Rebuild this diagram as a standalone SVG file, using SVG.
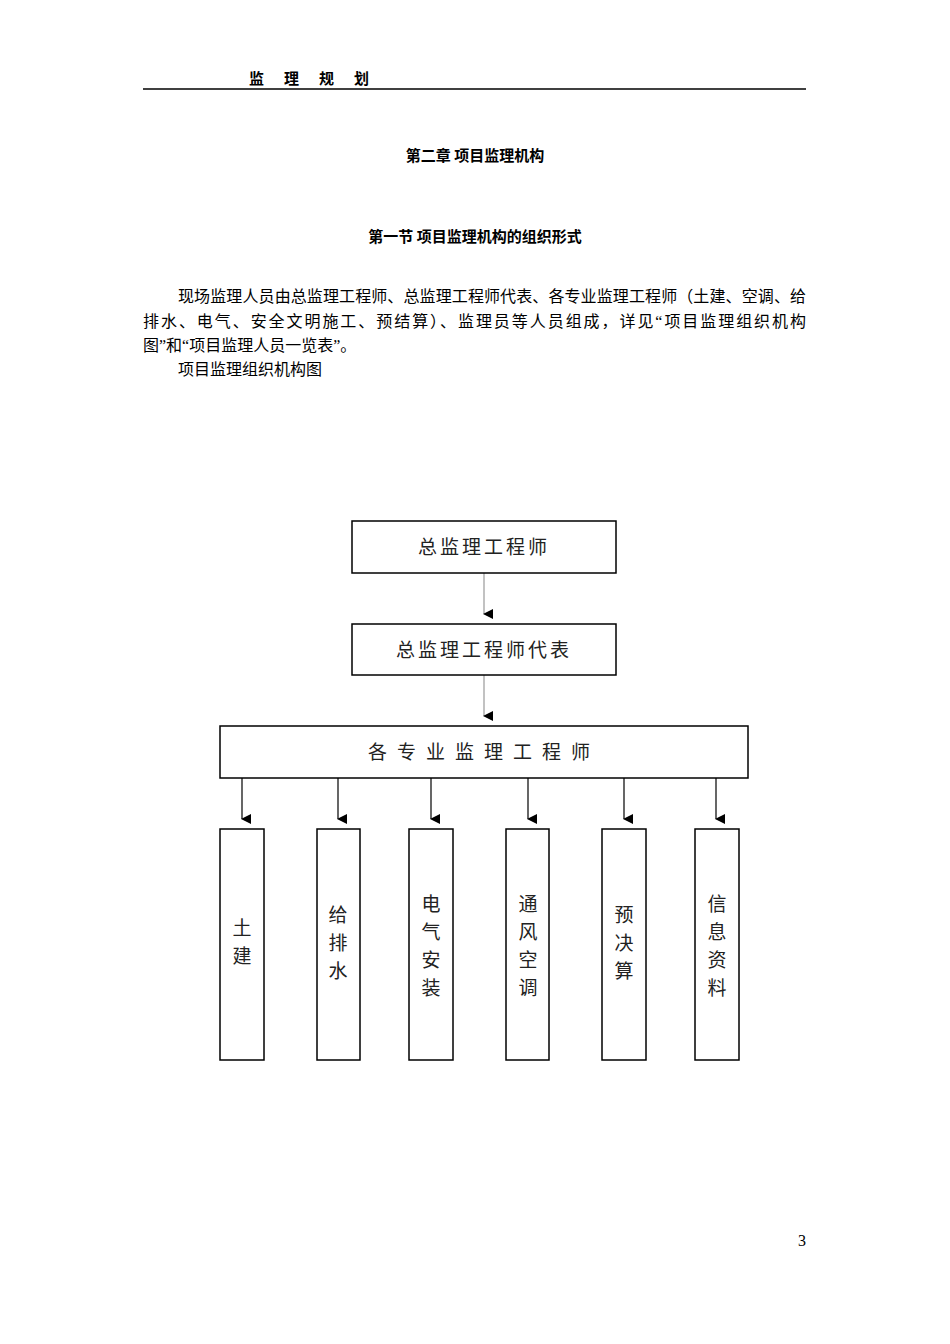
<svg xmlns="http://www.w3.org/2000/svg" width="950" height="1344" viewBox="0 0 950 1344">
<style>
.t{font-family:"Liberation Serif","Noto Sans CJK SC",serif;font-size:16px;fill:#000}
.b{font-family:"Noto Sans CJK SC",sans-serif;font-weight:bold;font-size:15px;fill:#000}
.n{font-family:"Noto Sans CJK SC",sans-serif;font-size:19px;fill:#222}
.box{fill:#fff;stroke:#000;stroke-width:1.5}
.c{stroke:#000;stroke-width:1.2;fill:none}
.g{stroke:#999;stroke-width:1.2;fill:none}
</style>
<defs><marker id="a" markerWidth="10" markerHeight="10" refX="5" refY="9" orient="auto" markerUnits="userSpaceOnUse"><path d="M0,0 L10,0 L5,10 z" fill="#000"/></marker></defs>
<rect width="950" height="1344" fill="#fff"/>
<text class="b" x="249" y="84" font-size="12" textLength="120">监 理 规 划</text>
<line x1="143" y1="89" x2="806" y2="89" stroke="#000" stroke-width="1.5"/>
<text class="b" x="475" y="161" text-anchor="middle">第二章  项目监理机构</text>
<text class="b" x="475" y="242" text-anchor="middle">第一节 项目监理机构的组织形式</text>
<text class="t" x="178" y="302" textLength="628">现场监理人员由总监理工程师、总监理工程师代表、各专业监理工程师（土建、空调、给</text>
<text class="t" x="143" y="327" textLength="663">排水、电气、安全文明施工、预结算）、监理员等人员组成，详见“项目监理组织机构</text>
<text class="t" x="143" y="351">图”和“项目监理人员一览表”。</text>
<text class="t" x="178" y="375">项目监理组织机构图</text>
<g id="connectors">
<line class="g" x1="484" y1="573" x2="484" y2="614" marker-end="url(#a)"/>
<line class="g" x1="484" y1="675" x2="484" y2="716" marker-end="url(#a)"/>
<line class="c" x1="242" y1="778" x2="242" y2="819" marker-end="url(#a)"/>
<line class="c" x1="338" y1="778" x2="338" y2="819" marker-end="url(#a)"/>
<line class="c" x1="431" y1="778" x2="431" y2="819" marker-end="url(#a)"/>
<line class="c" x1="528" y1="778" x2="528" y2="819" marker-end="url(#a)"/>
<line class="c" x1="624" y1="778" x2="624" y2="819" marker-end="url(#a)"/>
<line class="c" x1="716" y1="778" x2="716" y2="819" marker-end="url(#a)"/>
</g>
<g id="n1"><rect class="box" x="352" y="521" width="264" height="52"/><text class="n" x="484" y="554" text-anchor="middle" letter-spacing="3">总监理工程师</text></g>
<g id="n2"><rect class="box" x="352" y="624" width="264" height="51"/><text class="n" x="484" y="657" text-anchor="middle" letter-spacing="3">总监理工程师代表</text></g>
<g id="n3"><rect class="box" x="220" y="726" width="528" height="52"/><text class="n" x="484" y="759" text-anchor="middle" letter-spacing="10">各专业监理工程师</text></g>
<g id="n4"><rect class="box" x="220" y="829" width="44" height="231"/><text class="n" x="242" y="935" text-anchor="middle">土</text><text class="n" x="242" y="963" text-anchor="middle">建</text></g>
<g id="n5"><rect class="box" x="317" y="829" width="43" height="231"/><text class="n" x="338" y="922" text-anchor="middle">给</text><text class="n" x="338" y="950" text-anchor="middle">排</text><text class="n" x="338" y="978" text-anchor="middle">水</text></g>
<g id="n6"><rect class="box" x="409" y="829" width="44" height="231"/><text class="n" x="431" y="911" text-anchor="middle">电</text><text class="n" x="431" y="939" text-anchor="middle">气</text><text class="n" x="431" y="967" text-anchor="middle">安</text><text class="n" x="431" y="995" text-anchor="middle">装</text></g>
<g id="n7"><rect class="box" x="506" y="829" width="43" height="231"/><text class="n" x="528" y="911" text-anchor="middle">通</text><text class="n" x="528" y="939" text-anchor="middle">风</text><text class="n" x="528" y="967" text-anchor="middle">空</text><text class="n" x="528" y="995" text-anchor="middle">调</text></g>
<g id="n8"><rect class="box" x="602" y="829" width="44" height="231"/><text class="n" x="624" y="922" text-anchor="middle">预</text><text class="n" x="624" y="950" text-anchor="middle">决</text><text class="n" x="624" y="978" text-anchor="middle">算</text></g>
<g id="n9"><rect class="box" x="695" y="829" width="44" height="231"/><text class="n" x="717" y="911" text-anchor="middle">信</text><text class="n" x="717" y="939" text-anchor="middle">息</text><text class="n" x="717" y="967" text-anchor="middle">资</text><text class="n" x="717" y="995" text-anchor="middle">料</text></g>
<text class="t" x="806" y="1246" text-anchor="end" font-size="14">3</text>
</svg>
